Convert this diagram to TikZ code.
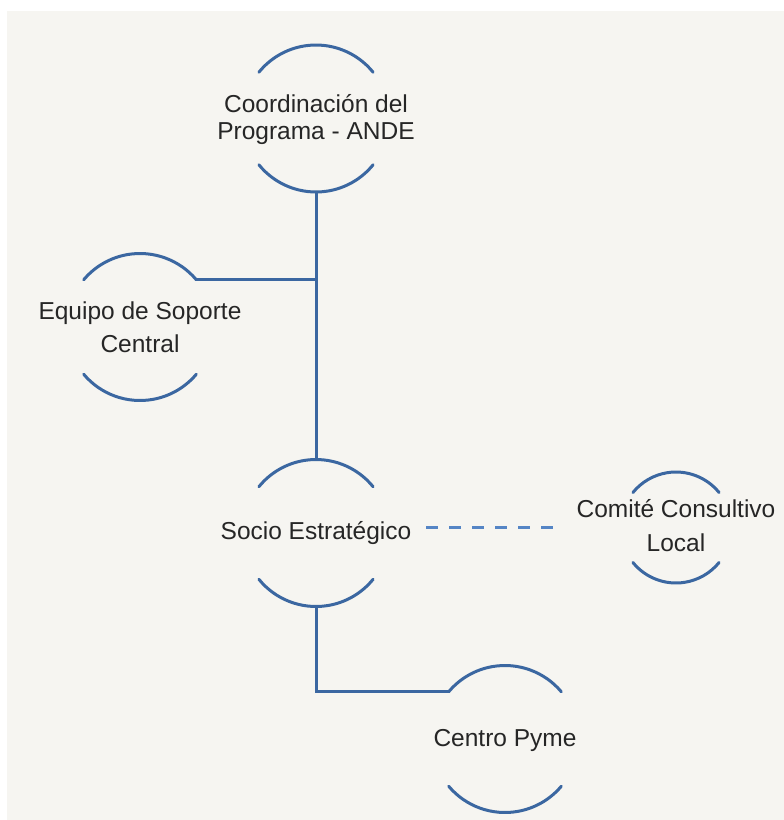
\documentclass[tikz,border=0pt]{standalone}
\usepackage{fontspec}
\setmainfont{Liberation Sans}
\definecolor{bgc}{HTML}{F6F5F1}
\definecolor{linec}{HTML}{3B67A1}
\definecolor{dashc}{HTML}{5585C5}
\definecolor{txtc}{HTML}{262626}
\tikzset{
  ring/.style={circle, draw=none, inner sep=0pt, outer sep=0pt, minimum size=#1},
  txt/.style={text=txtc, align=center, font=\fontsize{24.5}{33}\selectfont},
  arcline/.style={draw=linec, line width=3pt, line cap=round},
  conn/.style={draw=linec, line width=3pt},
  dconn/.style={draw=dashc, line width=3pt, dash pattern=on 12pt off 11pt},
}
\newcommand{\ringarcs}[3]{% name, radius, half-angle from horizontal
  \draw[arcline] (#1.#3) arc[start angle=#3, end angle={180-#3}, radius=#2];
  \draw[arcline] (#1.{-180+#3}) arc[start angle={-180+#3}, end angle={-#3}, radius=#2];
}
\begin{document}
\begin{tikzpicture}[x=1pt, y=1pt]
\useasboundingbox (0,-820) rectangle (784,0);
\fill[bgc] (7,-11) rectangle (784,-820);

\node[ring=147] (coord) at (316,-118.5) {};
\node[ring=147] (equipo) at (140,-327) {};
\node[ring=147] (socio) at (316,-533) {};
\node[ring=111] (comite) at (676,-527.5) {};
\node[ring=147] (centro) at (505,-739) {};

\node[txt, font=\fontsize{24.5}{27}\selectfont] (tcoord) at (316,-120) {Coordinación del\\Programa - ANDE};
\node[txt] (tequipo) at (140,-327) {Equipo de Soporte\\Central};
\node[txt] (tsocio) at (316,-533) {Socio Estratégico};
\node[txt, font=\fontsize{24.5}{34}\selectfont] (tcomite) at (676,-525.5) {Comité Consultivo\\Local};
\node[txt] (tcentro) at (505,-740) {Centro Pyme};

\ringarcs{coord}{73.5}{39}
\ringarcs{equipo}{73.5}{40}
\ringarcs{socio}{73.5}{39}
\ringarcs{comite}{55.5}{39}
\ringarcs{centro}{73.5}{40}

\coordinate (dA) at (426,-527);
\coordinate (dB) at (556,-527);

\draw[conn] (coord.south) -- (socio.north);
\draw[conn] (equipo.40) -- (equipo.40 -| coord.south);
\draw[conn] (socio.south) |- (centro.140);
\draw[dconn] (dA) -- (dB);
\end{tikzpicture}
\end{document}
